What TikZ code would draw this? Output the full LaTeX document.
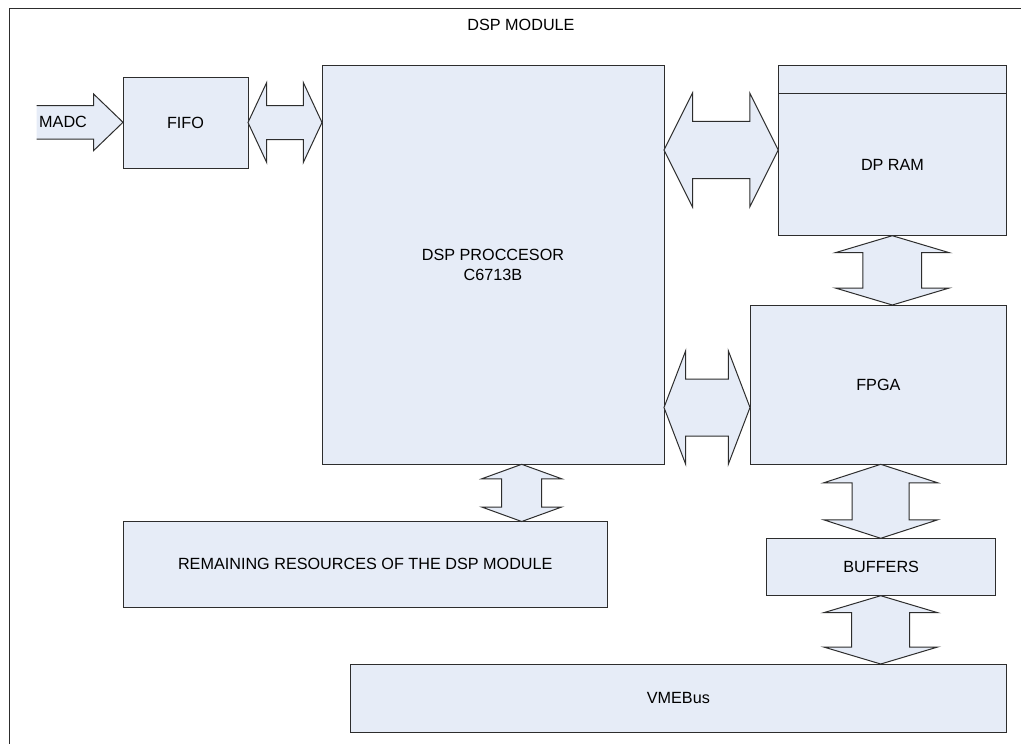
\documentclass[tikz,border=0pt]{standalone}
\usepackage{fontspec}
\setmainfont{Liberation Sans}
\usetikzlibrary{calc}
\definecolor{boxfill}{RGB}{230,236,247}
\definecolor{edge}{RGB}{45,45,45}
\newcommand\hbus[5]{\draw[bus] (#1) -- ++(#3,-#4) -- ++(0,#4-#5) -- ([shift={(-#3,-#5)}]#2) -- ++(0,#5-#4) -- (#2) -- ++(-#3,#4) -- ++(0,#5-#4) -- ([shift={(#3,#5)}]#1) -- ++(0,#4-#5) -- cycle;}
\newcommand\vbus[5]{\draw[bus] (#1) -- ++(#4,#3) -- ++(#5-#4,0) -- ([shift={(#5,-#3)}]#2) -- ++(#4-#5,0) -- (#2) -- ++(-#4,-#3) -- ++(#4-#5,0) -- ([shift={(-#5,#3)}]#1) -- ++(#5-#4,0) -- cycle;}
\begin{document}
\begin{tikzpicture}[x=1pt,y=-1pt,
 box/.style={draw=edge, fill=boxfill, line width=1pt, outer sep=0pt, inner sep=0pt,
   font=\fontsize{16.2}{19.5}\selectfont, align=center},
 bus/.style={draw=edge, fill=boxfill, line width=1pt, line join=miter},
 lbl/.style={font=\fontsize{16.2}{19.5}\selectfont, inner sep=0pt, text=black}]
\clip (0,0) rectangle (1021,744);
\fill[white] (0,0) rectangle (1021,744);
\draw[edge, line width=1pt] (9,8.5) rectangle (1040,760);
\node[lbl] (title) at (521,25) {DSP MODULE};

% boxes
\node[box, minimum width=125pt, minimum height=91pt] (fifo) at (185.5,122.5) {FIFO};
\node[box, minimum width=342pt, minimum height=398.6pt] (dsp) at (493,265) {DSP PROCCESOR\\C6713B};
\node[box, minimum width=228.4pt, minimum height=28pt] (dphead) at (892.5,79.7) {};
\node[box, minimum width=228.4pt, minimum height=142pt] (dpram) at (892.5,164.7) {DP RAM};
\node[box, minimum width=256.7pt, minimum height=159.3pt] (fpga) at (878.35,384.65) {FPGA};
\node[box, minimum width=484.5pt, minimum height=85.5pt] (rem) at (365.25,564.25) {REMAINING RESOURCES OF THE DSP MODULE};
\node[box, minimum width=229pt, minimum height=57.4pt] (buf) at (881.2,567) {BUFFERS};
\node[box, minimum width=655.3pt, minimum height=68pt] (vme) at (678.35,698) {VMEBus};

% rows and columns of the bus arrows
\coordinate (r1) at (0,122.5);
\coordinate (r2) at (0,150);
\coordinate (r3) at (0,407.5);
\coordinate (c1) at (892.3,0);
\coordinate (c2) at (880.7,0);
\coordinate (c3) at (521.7,0);

\coordinate (a1) at (fifo.east |- r1); \coordinate (b1) at (dsp.west |- r1);
\coordinate (a2) at (dsp.east |- r2);  \coordinate (b2) at (dpram.west |- r2);
\coordinate (a3) at (dsp.east |- r3);  \coordinate (b3) at (fpga.west |- r3);
\coordinate (t1) at (dpram.south -| c1); \coordinate (u1) at (fpga.north -| c1);
\coordinate (t2) at (fpga.south -| c2);  \coordinate (u2) at (buf.north -| c2);
\coordinate (t3) at (buf.south -| c2);   \coordinate (u3) at (vme.north -| c2);
\coordinate (t4) at (dsp.south -| c3);   \coordinate (u4) at (rem.north -| c3);

\hbus{a1}{b1}{18.7}{40}{17}
\hbus{a2}{b2}{28.5}{57}{28.7}
\hbus{a3}{b3}{21.7}{56.8}{28.5}
\vbus{t1}{u1}{17}{57}{29.4}
\vbus{t2}{u2}{18.5}{57}{28.5}
\vbus{t3}{u3}{17}{57}{29}
\vbus{t4}{u4}{14.5}{40}{20}

% MADC input arrow (open at its left end)
\coordinate (madc) at (36.7,122.3);
\coordinate (madctip) at (fifo.west |- madc);
\fill[boxfill] ([shift={(0,-16.7)}]madc) -- ([shift={(-29.4,-16.7)}]madctip) -- ++(0,-11.6) -- (madctip) -- ++(-29.4,28.3) -- ++(0,-11.6) -- ([shift={(0,16.7)}]madc) -- cycle;
\draw[edge, line width=1pt, line join=miter] ([shift={(0,-16.7)}]madc) -- ([shift={(-29.4,-16.7)}]madctip) -- ++(0,-11.6) -- (madctip) -- ++(-29.4,28.3) -- ++(0,-11.6) -- ([shift={(0,16.7)}]madc);
\node[lbl, anchor=west] (madclbl) at (39,122.3) {MADC};
\end{tikzpicture}
\end{document}
